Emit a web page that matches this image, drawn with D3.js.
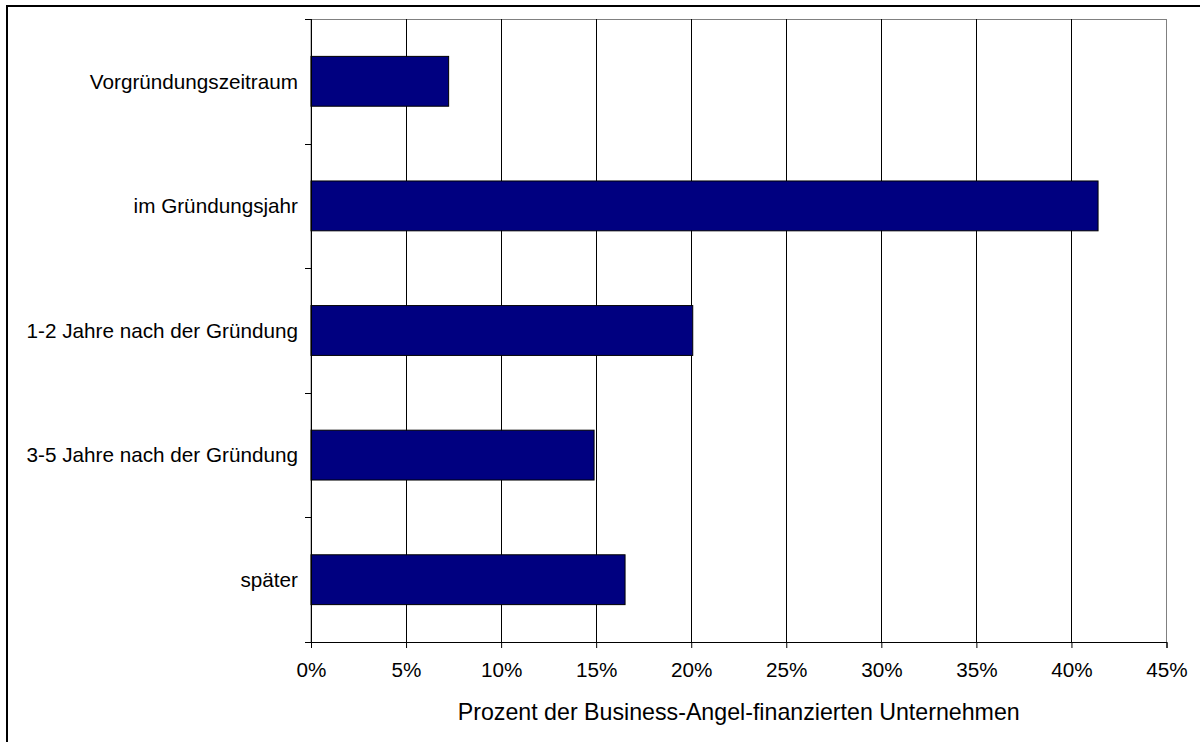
<!DOCTYPE html>
<html>
<head>
<meta charset="utf-8">
<script src="https://cdn.jsdelivr.net/npm/d3@7/dist/d3.min.js"></script>
<style>
  html, body { margin: 0; padding: 0; background: #fff; }
  svg text { font-family: "Liberation Sans", Arial, sans-serif; fill: #000; }
</style>
</head>
<body>
<svg id="chart" width="1200" height="742"></svg>
<script>
// Zeitpunkt der Business-Angel-Finanzierung
const categories = [
  "Vorgründungszeitraum",
  "im Gründungsjahr",
  "1-2 Jahre nach der Gründung",
  "3-5 Jahre nach der Gründung",
  "später"
];
const shares = [7.24, 41.4, 20.08, 14.89, 16.52];   // Prozent
const xTicks = [0, 5, 10, 15, 20, 25, 30, 35, 40, 45];
const xTitle = "Prozent der Business-Angel-finanzierten Unternehmen";

const svg = d3.select("#chart");
const plot = { left: 311, right: 1166.5, top: 19, bottom: 642 };

const x = d3.scaleLinear().domain([0, 45]).range([plot.left, plot.right]);
const y = d3.scaleBand().domain(categories)
  .range([plot.top, plot.bottom])
  .paddingInner(0.6).paddingOuter(0.3);

// outer chart frame
svg.append("rect")
  .attr("x", 7).attr("y", 6).attr("width", 1200).attr("height", 760)
  .attr("fill", "none").attr("stroke", "#000").attr("stroke-width", 2);

// plot area frame
svg.append("rect")
  .attr("x", plot.left).attr("y", plot.top + 0.5)
  .attr("width", plot.right - plot.left).attr("height", plot.bottom - plot.top)
  .attr("fill", "none").attr("stroke", "#808080").attr("stroke-width", 1);

// vertical gridlines
svg.append("g").selectAll("line")
  .data(xTicks.filter(d => d > 0 && d < 45))
  .join("line")
  .attr("x1", d => Math.round(x(d)) + 0.5).attr("x2", d => Math.round(x(d)) + 0.5)
  .attr("y1", plot.top).attr("y2", plot.bottom)
  .attr("stroke", "#000").attr("stroke-width", 1);

// bars
svg.append("g").selectAll("rect")
  .data(categories.map((c, i) => ({ c, v: shares[i] })))
  .join("rect")
  .attr("x", x(0))
  .attr("y", d => y(d.c))
  .attr("width", d => x(d.v) - x(0))
  .attr("height", y.bandwidth())
  .attr("fill", "#000080")
  .attr("stroke", "#000").attr("stroke-width", 1);

// x axis
const xAxis = svg.append("g")
  .attr("transform", `translate(0,${plot.bottom})`)
  .call(d3.axisBottom(x).tickValues(xTicks).tickSize(6).tickPadding(14)
    .tickFormat(d => d + "%"));
xAxis.select(".domain").attr("stroke", "#000");
xAxis.selectAll(".tick line").attr("stroke", "#000");
xAxis.selectAll("text").attr("font-size", 20.7).attr("font-family", null);

// y axis: line with ticks between categories
svg.append("line")
  .attr("x1", plot.left + 0.5).attr("x2", plot.left + 0.5)
  .attr("y1", plot.top).attr("y2", plot.bottom)
  .attr("stroke", "#000");
const boundaries = categories.map((c, i) => i === 0 ? plot.top : y(c) - y.step() * y.paddingInner() / 2);
boundaries.push(plot.bottom);
svg.append("g").selectAll("line")
  .data(boundaries)
  .join("line")
  .attr("x1", plot.left - 6).attr("x2", plot.left)
  .attr("y1", d => Math.round(d) + 0.5).attr("y2", d => Math.round(d) + 0.5)
  .attr("stroke", "#000");

// category labels
svg.append("g").selectAll("text")
  .data(categories)
  .join("text")
  .attr("x", 298)
  .attr("y", d => y(d) + y.bandwidth() / 2)
  .attr("dy", "0.35em")
  .attr("text-anchor", "end")
  .attr("font-size", 20.7)
  .text(d => d);

// axis title
svg.append("text")
  .attr("x", (plot.left + plot.right) / 2)
  .attr("y", 720)
  .attr("text-anchor", "middle")
  .attr("font-size", 23.2)
  .text(xTitle);
</script>
</body>
</html>
